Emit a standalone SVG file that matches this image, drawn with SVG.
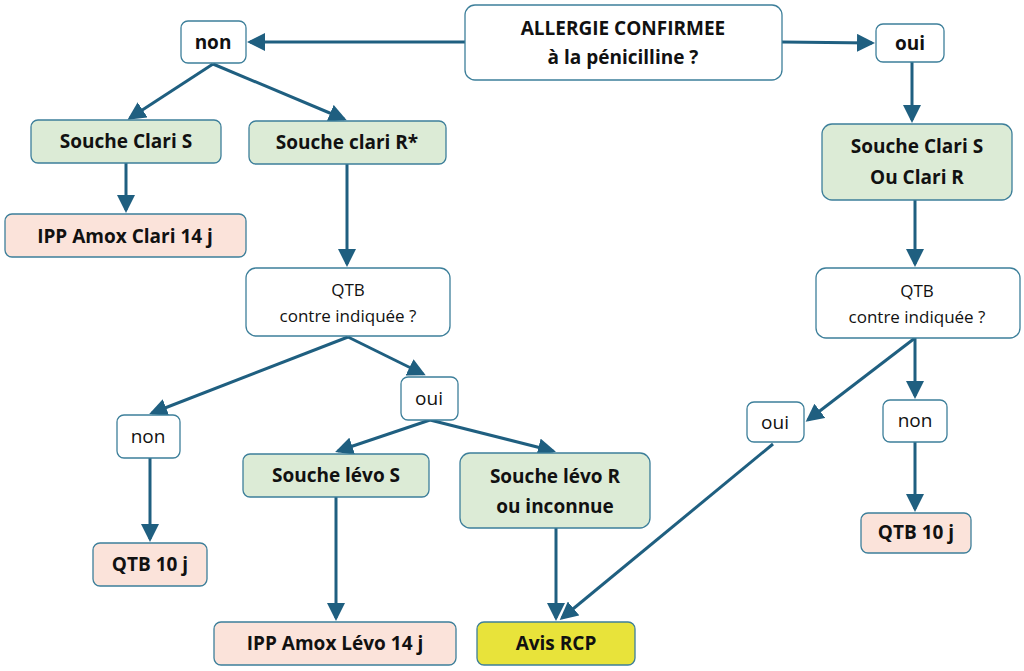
<svg xmlns="http://www.w3.org/2000/svg" width="1024" height="671" viewBox="0 0 1024 671">
<defs>
<marker id="ah" markerWidth="6" markerHeight="6" refX="5" refY="3" orient="auto" markerUnits="strokeWidth"><path d="M0,0 L6,3 L0,6 Z" fill="#1f5f80"/></marker>
<style>
.b{stroke:#3d7f9a;stroke-width:1.3}
.w{fill:#fff}.g{fill:#dcebd6}.p{fill:#fbe3da}.y{fill:#e8e33a}
text{font-family:"Open Sans","Liberation Sans",sans-serif;font-size:19px;fill:#111;text-anchor:middle}
.t{font-weight:bold}
.n{font-size:17px}
#c path{fill:none;stroke:#1f5f80;stroke-width:3;marker-end:url(#ah)}
</style>
</defs>
<rect width="1024" height="671" fill="#fff"/>
<g id="c">
<path d="M465,42 L250,42"/>
<path d="M782,42 L872,43"/>
<path d="M213,64 L130,118"/>
<path d="M213,64 L344,119"/>
<path d="M126,163 L126,210"/>
<path d="M347,164 L347,264"/>
<path d="M912,62 L912,120"/>
<path d="M915,200 L915,264"/>
<path d="M348,337 L152,413"/>
<path d="M348,337 L423,374"/>
<path d="M430,420 L338,451"/>
<path d="M430,420 L553,451"/>
<path d="M150,458 L150,539"/>
<path d="M336,497 L336,618"/>
<path d="M556,528 L556,618"/>
<path d="M915,338 L808,420"/>
<path d="M915,338 L915,396"/>
<path d="M773,444 L562,618"/>
<path d="M915,442 L915,509"/>
</g>
<g id="allergie"><rect class="b w" x="465" y="5" width="317" height="75" rx="10"/><text class="t" x="623" y="35">ALLERGIE CONFIRMEE</text><text class="t" x="623" y="64">à la pénicilline ?</text></g>
<g id="non1"><rect class="b w" x="181" y="21" width="65" height="42" rx="7"/><text class="t" x="213" y="49">non</text></g>
<g id="oui1"><rect class="b w" x="876" y="24" width="68" height="38" rx="7"/><text class="t" x="910" y="50">oui</text></g>
<g id="clariS"><rect class="b g" x="31" y="120" width="190" height="43" rx="7"/><text class="t" x="126" y="148">Souche Clari S</text></g>
<g id="clariR"><rect class="b g" x="249" y="121" width="197" height="43" rx="7"/><text class="t" x="347" y="149">Souche clari R*</text></g>
<g id="ippClari"><rect class="b p" x="5" y="214" width="241" height="43" rx="7"/><text class="t" x="125" y="243">IPP Amox Clari 14 j</text></g>
<g id="qtb1"><rect class="b w" x="246" y="268" width="204" height="68" rx="10"/><text class="n" x="348" y="296">QTB</text><text class="n" x="348" y="322">contre indiquée ?</text></g>
<g id="clariSR"><rect class="b g" x="822" y="124" width="190" height="76" rx="10"/><text class="t" x="917" y="153">Souche Clari S</text><text class="t" x="917" y="184">Ou Clari R</text></g>
<g id="qtb2"><rect class="b w" x="816" y="268" width="204" height="70" rx="10"/><text class="n" x="917" y="297">QTB</text><text class="n" x="917" y="323">contre indiquée ?</text></g>
<g id="non2"><rect class="b w" x="117" y="415" width="63" height="43" rx="7"/><text x="148" y="443">non</text></g>
<g id="oui2"><rect class="b w" x="401" y="377" width="57" height="43" rx="7"/><text x="429" y="405">oui</text></g>
<g id="levoS"><rect class="b g" x="243" y="454" width="186" height="43" rx="7"/><text class="t" x="336" y="482">Souche lévo S</text></g>
<g id="levoR"><rect class="b g" x="460" y="453" width="190" height="75" rx="10"/><text class="t" x="555" y="483">Souche lévo R</text><text class="t" x="555" y="513">ou inconnue</text></g>
<g id="qtb10a"><rect class="b p" x="93" y="543" width="114" height="43" rx="7"/><text class="t" x="150" y="571">QTB 10 j</text></g>
<g id="ippLevo"><rect class="b p" x="214" y="622" width="242" height="43" rx="7"/><text class="t" x="335" y="650">IPP Amox Lévo 14 j</text></g>
<g id="rcp"><rect class="b y" x="477" y="622" width="158" height="43" rx="7"/><text class="t" x="556" y="650">Avis RCP</text></g>
<g id="oui3"><rect class="b w" x="747" y="402" width="57" height="40" rx="7"/><text x="775" y="429">oui</text></g>
<g id="non3"><rect class="b w" x="883" y="400" width="64" height="42" rx="7"/><text x="915" y="427">non</text></g>
<g id="qtb10b"><rect class="b p" x="861" y="513" width="110" height="40" rx="7"/><text class="t" x="916" y="539">QTB 10 j</text></g>
</svg>
